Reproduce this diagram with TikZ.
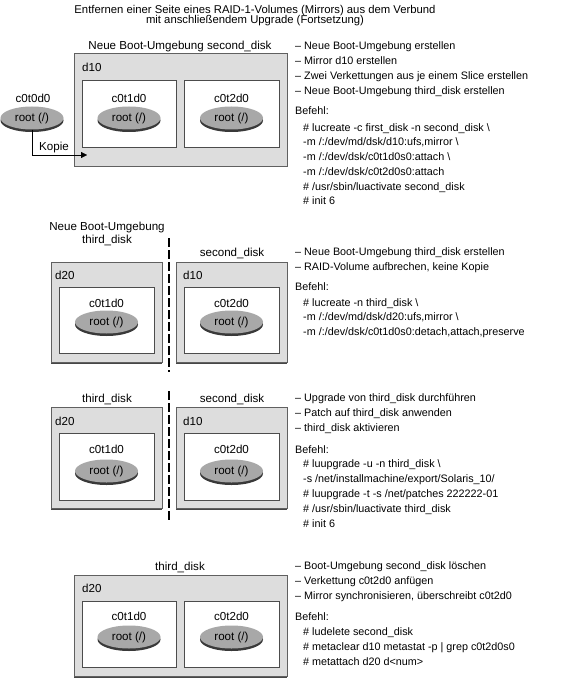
\documentclass[tikz,border=0pt]{standalone}
\usepackage{fontspec}
\setmainfont{Liberation Sans}
\usetikzlibrary{arrows.meta,positioning,shadows,shapes.geometric}
\tikzset{
  volbox/.style={draw=gray!75!black, fill=gray!27, inner sep=0pt,
    drop shadow={shadow xshift=0pt, shadow yshift=-1.5pt, fill=gray!55!black, opacity=1}},
  slicebox/.style={draw=gray!60!black, fill=white, inner sep=0pt},
  disk/.style={ellipse, fill=gray!68, minimum width=63pt, minimum height=23pt, inner sep=0pt,
    font=\fontsize{11.6}{13}\selectfont,
    drop shadow={shadow xshift=0pt, shadow yshift=-2.5pt, fill=gray!45!black, opacity=1}},
  lbl/.style={font=\fontsize{11.6}{13}\selectfont, inner sep=0pt, anchor=base},
  ttl/.style={font=\fontsize{11.3}{13}\selectfont, inner sep=0pt, anchor=base},
  vol/.style={font=\fontsize{11.6}{13}\selectfont, inner sep=0pt, anchor=base west},
  txt/.style={font=\fontsize{10.8}{12}\selectfont, inner sep=0pt, anchor=base west},
  cutline/.style={line width=1.2pt, dash pattern=on 9pt off 3pt},
  copyarrow/.style={-{Triangle[length=6pt,width=6pt]}, thin}
}
\begin{document}
\begin{tikzpicture}[x=1pt,y=-1pt]
\useasboundingbox (0,0) rectangle (568,679);

% title
\node[ttl] (t1) at (255,13.5) {Entfernen einer Seite eines RAID-1-Volumes (Mirrors) aus dem Verbund};
\node[ttl] (t2) at (255,24) {mit anschließendem Upgrade (Fortsetzung)};

%%% step 1
\node[lbl] (be1) at (180,50) {Neue Boot-Umgebung second\_disk};
\node[volbox, minimum width=213pt, minimum height=113pt] (v1) at (180.5,109.5) {};
\node[vol] (v1n) at (82,72) {d10};
\node[slicebox, minimum width=94pt, minimum height=67pt] (s1a) at (129,113.5) {};
\node[slicebox, minimum width=95pt, minimum height=67pt] (s1b) at (231.5,113.5) {};
\node[lbl] (s1an) at (129,103) {c0t1d0};
\node[lbl] (s1bn) at (231.5,103) {c0t2d0};
\node[disk] (r1a) at (129,118) {root (/)};
\node[disk] (r1b) at (231.5,118) {root (/)};
\node[lbl] (s0n) at (33,103) {c0t0d0};
\node[disk] (r0) at (32,118) {root (/)};
\coordinate (k1) at (87,155);
\draw[copyarrow] (r0.south) |- (k1);
\node[vol] (kop) at (39,150) {Kopie};

\foreach \t [count=\i] in {%
  {– Neue Boot-Umgebung erstellen},
  {– Mirror d10 erstellen},
  {– Zwei Verkettungen aus je einem Slice erstellen},
  {– Neue Boot-Umgebung third\_disk erstellen}}
  \node[txt] (a\i) at (295,{49.5+15*(\i-1)}) {\t};
\node[txt] (a5) at (295,114.5) {Befehl:};
\foreach \t [count=\i] in {%
  {\# lucreate -c first\_disk -n second\_disk \textbackslash},
  {-m /:/dev/md/dsk/d10:ufs,mirror \textbackslash},
  {-m /:/dev/dsk/c0t1d0s0:attach \textbackslash},
  {-m /:/dev/dsk/c0t2d0s0:attach},
  {\# /usr/sbin/luactivate second\_disk},
  {\# init 6}}
  \node[txt] (c\i) at (303,{131.2+14.7*(\i-1)}) {\t};

%%% step 2
\node[lbl, align=center] (be2) at (107,243.5) {Neue Boot-Umgebung\\third\_disk};
\node[lbl] (be2b) at (232,256) {second\_disk};
\coordinate (cut2a) at (169,238);
\coordinate (cut2b) at (169,372);
\draw[cutline] (cut2a) -- (cut2b);
\node[volbox, minimum width=111pt, minimum height=100pt] (v2a) at (106.5,312) {};
\node[volbox, minimum width=111pt, minimum height=100pt] (v2b) at (231.5,312) {};
\node[vol] (v2an) at (55,279) {d20};
\node[vol] (v2bn) at (183,279) {d10};
\node[slicebox, minimum width=95pt, minimum height=66pt] (s2a) at (106.5,320) {};
\node[slicebox, minimum width=95pt, minimum height=66pt] (s2b) at (231.5,320) {};
\node[lbl] (s2an) at (106.5,307) {c0t1d0};
\node[lbl] (s2bn) at (231.5,307) {c0t2d0};
\node[disk] (r2a) at (106.5,322) {root (/)};
\node[disk] (r2b) at (231.5,322) {root (/)};

\foreach \t [count=\i] in {%
  {– Neue Boot-Umgebung third\_disk erstellen},
  {– RAID-Volume aufbrechen, keine Kopie}}
  \node[txt] (b\i) at (295,{255.5+15*(\i-1)}) {\t};
\node[txt] (b3) at (295,290.2) {Befehl:};
\foreach \t [count=\i] in {%
  {\# lucreate -n third\_disk \textbackslash},
  {-m /:/dev/md/dsk/d20:ufs,mirror \textbackslash},
  {-m /:/dev/dsk/c0t1d0s0:detach,attach,preserve}}
  \node[txt] (d\i) at (303,{306.2+14.7*(\i-1)}) {\t};

%%% step 3
\node[lbl] (be3) at (107,402) {third\_disk};
\node[lbl] (be3b) at (232,402) {second\_disk};
\coordinate (cut3a) at (169,391);
\coordinate (cut3b) at (169,520);
\draw[cutline] (cut3a) -- (cut3b);
\node[volbox, minimum width=111pt, minimum height=101pt] (v3a) at (106.5,457.5) {};
\node[volbox, minimum width=111pt, minimum height=101pt] (v3b) at (231.5,457.5) {};
\node[vol] (v3an) at (55,425.5) {d20};
\node[vol] (v3bn) at (183,425.5) {d10};
\node[slicebox, minimum width=95pt, minimum height=67pt] (s3a) at (106.5,466.5) {};
\node[slicebox, minimum width=95pt, minimum height=67pt] (s3b) at (231.5,466.5) {};
\node[lbl] (s3an) at (106.5,453) {c0t1d0};
\node[lbl] (s3bn) at (231.5,453) {c0t2d0};
\node[disk] (r3a) at (106.5,471) {root (/)};
\node[disk] (r3b) at (231.5,471) {root (/)};

\foreach \t [count=\i] in {%
  {– Upgrade von third\_disk durchführen},
  {– Patch auf third\_disk anwenden},
  {– third\_disk aktivieren}}
  \node[txt] (e\i) at (295,{401.5+15*(\i-1)}) {\t};
\node[txt] (e4) at (295,453.5) {Befehl:};
\foreach \t [count=\i] in {%
  {\# luupgrade -u -n third\_disk \textbackslash},
  {-s /net/installmachine/export/Solaris\_10/},
  {\# luupgrade -t -s /net/patches 222222-01},
  {\# /usr/sbin/luactivate third\_disk},
  {\# init 6}}
  \node[txt] (f\i) at (303,{467.8+15*(\i-1)}) {\t};

%%% step 4
\node[lbl] (be4) at (180,570) {third\_disk};
\node[volbox, minimum width=213pt, minimum height=101pt] (v4) at (180.5,625.5) {};
\node[vol] (v4n) at (82,592) {d20};
\node[slicebox, minimum width=94pt, minimum height=66pt] (s4a) at (129,634) {};
\node[slicebox, minimum width=95pt, minimum height=66pt] (s4b) at (231.5,634) {};
\node[lbl] (s4an) at (129,620) {c0t1d0};
\node[lbl] (s4bn) at (231.5,620) {c0t2d0};
\node[disk] (r4a) at (129,637) {root (/)};
\node[disk] (r4b) at (231.5,637) {root (/)};

\foreach \t [count=\i] in {%
  {– Boot-Umgebung second\_disk löschen},
  {– Verkettung c0t2d0 anfügen},
  {– Mirror synchronisieren, überschreibt c0t2d0}}
  \node[txt] (g\i) at (295,{569.5+15*(\i-1)}) {\t};
\node[txt] (g4) at (295,620.2) {Befehl:};
\foreach \t [count=\i] in {%
  {\# ludelete second\_disk},
  {\# metaclear d10 metastat -p | grep c0t2d0s0},
  {\# metattach d20 d<num>}}
  \node[txt] (h\i) at (303,{635.2+15*(\i-1)}) {\t};
\end{tikzpicture}
\end{document}
